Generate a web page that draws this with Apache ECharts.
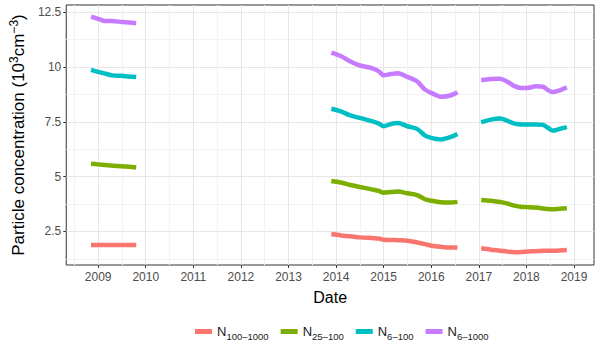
<!DOCTYPE html>
<html>
<head>
<meta charset="utf-8">
<script src="https://cdn.jsdelivr.net/npm/echarts@6/dist/echarts.min.js"></script>
<style>
  html, body { margin: 0; padding: 0; background: #fff; }
  #chartContainer { width: 600px; height: 348px; }
</style>
</head>
<body>
<div id="chartContainer"></div>
<script>
// decimal years; null rows mark the gaps in the record
const dates = [
  2008.85, 2009.0, 2009.15, 2009.3, 2009.5, 2009.65, 2009.8,
  2011.5,
  2013.9, 2014.1, 2014.3, 2014.5, 2014.75, 2014.9, 2015.0, 2015.15, 2015.3, 2015.5,
  2015.7, 2015.87, 2016.0, 2016.2, 2016.4, 2016.55,
  2016.8,
  2017.05, 2017.25, 2017.45, 2017.6, 2017.75, 2017.9, 2018.0, 2018.2, 2018.35, 2018.45,
  2018.55, 2018.7, 2018.85
];

const n100_1000 = [
  1.88, 1.88, 1.88, 1.88, 1.88, 1.88, 1.88,
  null,
  2.38, 2.32, 2.28, 2.23, 2.2, 2.18, 2.12, 2.11, 2.1, 2.08, 2.0, 1.92, 1.85, 1.8, 1.77, 1.77,
  null,
  1.73, 1.67, 1.62, 1.58, 1.55, 1.56, 1.58, 1.6, 1.62, 1.62, 1.62, 1.63, 1.65
];
const n25_100 = [
  5.59, 5.56, 5.53, 5.5, 5.48, 5.45, 5.42,
  null,
  4.8, 4.73, 4.62, 4.53, 4.42, 4.35, 4.27, 4.3, 4.32, 4.24, 4.16, 3.97, 3.9, 3.83, 3.82, 3.85,
  null,
  3.94, 3.9, 3.84, 3.77, 3.68, 3.62, 3.61, 3.59, 3.55, 3.52, 3.51, 3.54, 3.56
];
const n6_100 = [
  9.87, 9.78, 9.7, 9.62, 9.6, 9.57, 9.55,
  null,
  8.1, 7.98, 7.79, 7.68, 7.53, 7.42, 7.3, 7.4, 7.45, 7.3, 7.18, 6.87, 6.77, 6.7, 6.8, 6.95,
  null,
  7.48, 7.6, 7.65, 7.55, 7.42, 7.38, 7.38, 7.38, 7.36, 7.23, 7.1, 7.18, 7.26
];
const n6_1000 = [
  12.3, 12.2, 12.1, 12.1, 12.05, 12.03, 12.0,
  null,
  10.66, 10.5, 10.25, 10.07, 9.95, 9.8, 9.62, 9.68, 9.72, 9.55, 9.35, 8.97, 8.82, 8.65, 8.7, 8.85,
  null,
  9.4, 9.45, 9.47, 9.33, 9.13, 9.04, 9.04, 9.12, 9.1, 8.95, 8.86, 8.94, 9.07
];

const seriesNames = ['N100-1000', 'N25-100', 'N6-100', 'N6-1000'];
const seriesColors = ['#F8766D', '#7CAE00', '#00BFC4', '#C77CFF'];

const xTicks = [2009, 2010, 2011, 2012, 2013, 2014, 2015, 2016, 2017, 2018, 2019];
const xMinorTicks = [2008.5, 2009.5, 2010.5, 2011.5, 2012.5, 2013.5, 2014.5, 2015.5, 2016.5, 2017.5, 2018.5];
const yTicks = [2.5, 5, 7.5, 10, 12.5];
const yMinorTicks = [1.25, 3.75, 6.25, 8.75, 11.25];

const font = "'Liberation Sans', Arial, sans-serif";

var myChart = echarts.init(document.getElementById('chartContainer'), null, { renderer: 'svg' });

function pairs(values) {
  return dates.map((d, i) => [d, values[i]]);
}

const allValues = [n100_1000, n25_100, n6_100, n6_1000];

let options = {
  animation: false,
  textStyle: { fontFamily: font },
  grid: {
    left: 65, right: 6, top: 5, bottom: 83,
    show: true, borderColor: '#333333', borderWidth: 1
  },
  legend: {
    bottom: 2,
    left: 190,
    data: seriesNames,
    icon: 'rect',
    itemWidth: 17,
    itemHeight: 5,
    itemGap: 12,
    textStyle: {
      fontFamily: font,
      fontSize: 13,
      color: '#1a1a1a',
      rich: {
        n: { fontSize: 13, color: '#1a1a1a', fontFamily: font },
        sub: { fontSize: 9.5, color: '#1a1a1a', fontFamily: font, padding: [9, 0, 0, 0] }
      }
    },
    formatter: function (name) {
      return '{n|N}{sub|' + name.slice(1).replace('-', '\u2013') + '}';
    }
  },
  xAxis: [{
    type: 'value',
    min: 2008.33,
    max: 2019.42,
    name: 'Date',
    nameLocation: 'middle',
    nameGap: 24,
    nameTextStyle: { fontSize: 16, color: '#000', fontFamily: font },
    axisLine: { show: false },
    axisTick: { show: true, length: 3, lineStyle: { color: '#333' }, customValues: xTicks },
    axisLabel: {
      customValues: xTicks, fontSize: 12, color: '#4d4d4d', margin: 6, fontFamily: font,
      formatter: v => String(v)
    },
    splitLine: { show: true, lineStyle: { color: '#e6e6e6', width: 1 } }
  }, {
    type: 'value',
    min: 2008.33,
    max: 2019.42,
    position: 'bottom',
    axisLine: { show: false },
    axisTick: { show: false, customValues: xMinorTicks },
    axisLabel: { show: false, customValues: xMinorTicks },
    splitLine: { show: true, lineStyle: { color: '#f2f2f2', width: 1 } }
  }],
  yAxis: [{
    type: 'value',
    min: 0.97,
    max: 12.83,
    name: 'Particle concentration (10{sup|3}cm{sup|\u22123})',
    nameLocation: 'middle',
    nameGap: 36,
    nameTextStyle: {
      fontSize: 17, color: '#000', fontFamily: font,
      rich: {
        sup: { fontSize: 12, color: '#000', fontFamily: font, padding: [0, 0, 9, 0] }
      }
    },
    axisLine: { show: false },
    axisTick: { show: true, length: 3, lineStyle: { color: '#333' }, customValues: yTicks },
    axisLabel: { customValues: yTicks, fontSize: 12, color: '#4d4d4d', margin: 5, fontFamily: font },
    splitLine: { show: true, lineStyle: { color: '#e6e6e6', width: 1 } }
  }, {
    type: 'value',
    min: 0.97,
    max: 12.83,
    position: 'left',
    axisLine: { show: false },
    axisTick: { show: false, customValues: yMinorTicks },
    axisLabel: { show: false, customValues: yMinorTicks },
    splitLine: { show: true, lineStyle: { color: '#f2f2f2', width: 1 } }
  }],
  series: seriesNames.map((name, i) => ({
    name: name,
    type: 'line',
    xAxisIndex: 0,
    yAxisIndex: 0,
    showSymbol: false,
    symbol: 'none',
    smooth: 0.3,
    connectNulls: false,
    color: seriesColors[i],
    lineStyle: { width: 4.5, color: seriesColors[i] },
    data: pairs(allValues[i])
  }))
};

myChart.setOption(options);
</script>
</body>
</html>
